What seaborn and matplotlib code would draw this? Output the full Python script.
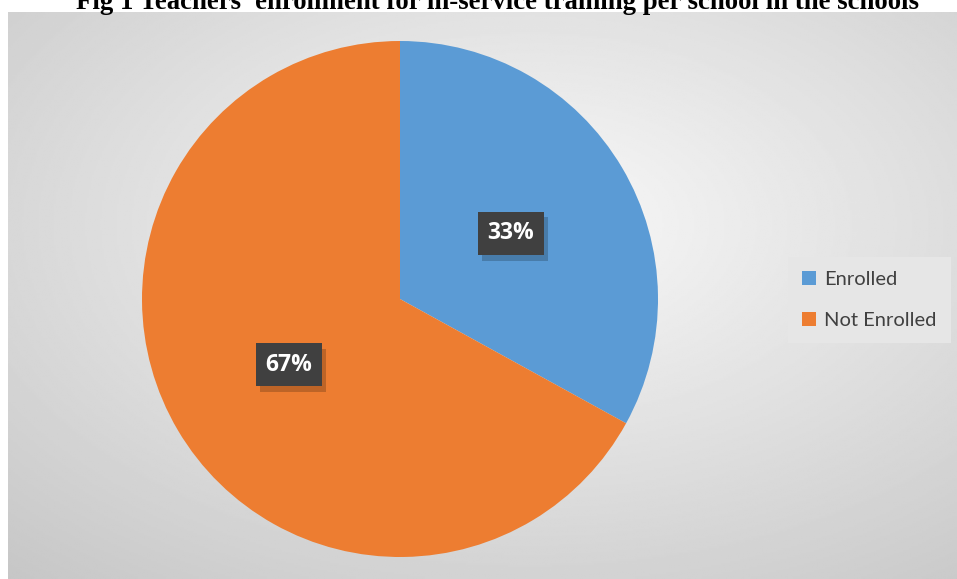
import numpy as np
import matplotlib
matplotlib.use("Agg")
import matplotlib.pyplot as plt
import matplotlib.patheffects as pe
from matplotlib.patches import Patch
import seaborn as sns

# data
status_labels = ["Enrolled", "Not Enrolled"]
status_share = [33, 67]
slice_colors = ["#5b9bd5", "#ed7d31"]
chart_title = "Fig 1 Teachers' enrollment for in-service training per school in the schools"

sns.set_theme(style="white")
plt.rcParams['font.family'] = ['Open Sans', 'DejaVu Sans']

W, H = 957, 579
fig = plt.figure(figsize=(W / 100, H / 100), dpi=100)
fig.patch.set_facecolor("white")

# grey radial gradient behind the chart area
bg = fig.add_axes([8 / W, 0, 1 - 8 / W, (H - 12) / H])
yy, xx = np.mgrid[1:-1:300j, -1:1:500j]
rr = np.sqrt((xx - 0.1) ** 2 + (yy - 0.25) ** 2) / 1.6
shade = 0.975 - 0.19 * np.clip(rr, 0, 1.1)
bg.imshow(shade, cmap="gray", vmin=0, vmax=1, aspect="auto", extent=[0, 1, 0, 1])
bg.set_axis_off()

# title, clipped at the top like the scan
fig.text(497 / W, 1 - 9 / H, chart_title, ha="center", va="baseline",
         fontsize=19.3, fontweight="bold", family=["Liberation Serif", "DejaVu Serif"],
         color="black")

# pie
cx, cy, r = 400, 299, 258
ax = fig.add_axes([(cx - r) / W, (H - cy - r) / H, 2 * r / W, 2 * r / H])
wedges, texts, autotexts = ax.pie(status_share, colors=slice_colors, startangle=90,
                                  counterclock=False, autopct="%1.0f%%", pctdistance=0.5,
                                  wedgeprops=dict(linewidth=0))
ax.set_xlim(-1, 1)
ax.set_ylim(-1, 1)
ax.set_aspect("auto")
ax.set_axis_off()

for t in autotexts:
    t.set_color("white")
    t.set_fontweight("bold")
    t.set_fontsize(16.5)
    t.set_bbox(dict(boxstyle="square,pad=0.42", facecolor="#404040", edgecolor="none"))
    t.get_bbox_patch().set_path_effects([
        pe.SimplePatchShadow(offset=(3, -4), shadow_rgbFace="black", alpha=0.2),
        pe.Normal()])

# legend
handles = [Patch(facecolor=c, edgecolor="none", label=l) for c, l in zip(slice_colors, status_labels)]
leg = fig.legend(handles=handles, loc="center left", bbox_to_anchor=(778 / W, 1 - 300 / H),
                 frameon=True, prop={"family": ["Lato", "DejaVu Sans"], "size": 14.5},
                 handlelength=0.7, handleheight=0.7,
                 handletextpad=0.4, labelspacing=1.15, borderpad=0.7, fancybox=False)
leg.get_frame().set_facecolor("#e6e6e6")
leg.get_frame().set_edgecolor("none")
leg.get_frame().set_alpha(1)
for txt in leg.get_texts():
    txt.set_color("#404040")

fig.savefig("out.png", dpi=100)
